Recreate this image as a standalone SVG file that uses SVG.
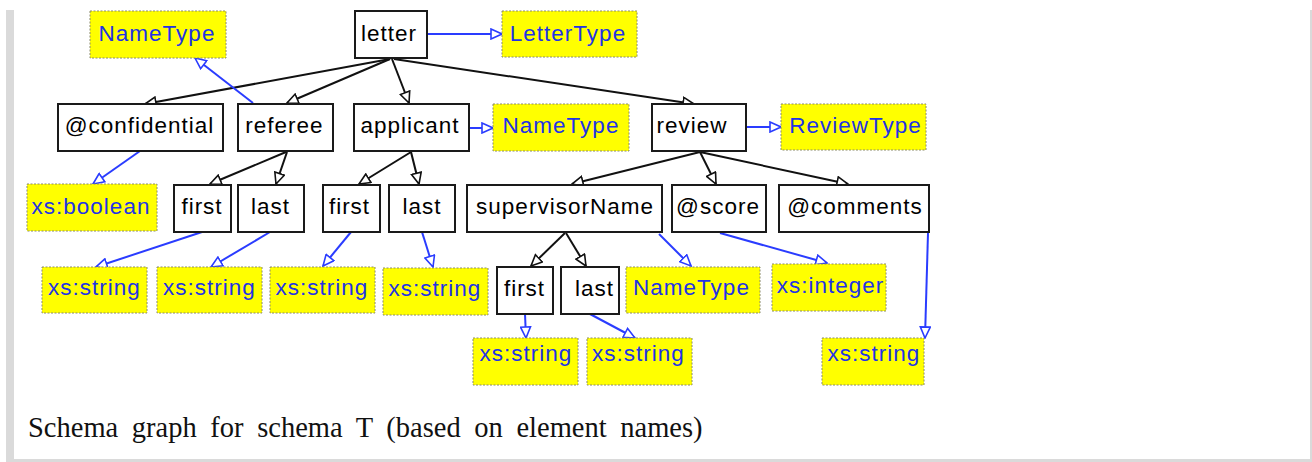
<svg xmlns="http://www.w3.org/2000/svg" width="1312" height="462" viewBox="0 0 1312 462">
<style>
.n rect{fill:#fff;stroke:#1a1a1a;stroke-width:2}
.t rect{fill:#ffff00;stroke:#8a8a6a;stroke-width:1;stroke-dasharray:2,1.5}
text{font-family:"Liberation Sans",Arial,sans-serif;font-size:22.5px;letter-spacing:1px;text-anchor:middle}
.n text{fill:#000}
.t text{fill:#2233e6}
.k{stroke:#111;stroke-width:2;fill:none;marker-end:url(#ak)}
.b{stroke:#2a3cff;stroke-width:2;fill:none;marker-end:url(#ab)}
.cap{font-family:"Liberation Serif","Times New Roman",serif;font-size:28.5px;letter-spacing:0;word-spacing:6.5px;text-anchor:start;fill:#111}
.fr{fill:#dadada}
</style>
<defs>
<marker id="ak" viewBox="0 0 13 12" refX="12" refY="6" markerWidth="13" markerHeight="12" markerUnits="userSpaceOnUse" orient="auto">
<path d="M1,1 L12,6 L1,11 Z" fill="#fff" stroke="#111" stroke-width="1.6"/>
</marker>
<marker id="ab" viewBox="0 0 13 12" refX="12" refY="6" markerWidth="13" markerHeight="12" markerUnits="userSpaceOnUse" orient="auto">
<path d="M1,1 L12,6 L1,11 Z" fill="#fff" stroke="#2a3cff" stroke-width="1.6"/>
</marker>
</defs>
<g id="frame">
<rect class="fr" x="6" y="10" width="8" height="452"/>
<rect class="fr" x="1310" y="10" width="2" height="452"/>
<rect class="fr" x="6" y="459" width="1306" height="3"/>
</g>
<g id="connectors">
<line class="k" x1="390" y1="59" x2="145" y2="104"/>
<line class="k" x1="390" y1="59" x2="287" y2="103"/>
<line class="k" x1="392" y1="59" x2="409" y2="103"/>
<line class="k" x1="394" y1="59" x2="694" y2="104"/>
<line class="k" x1="286" y1="152" x2="210" y2="184"/>
<line class="k" x1="287" y1="152" x2="276" y2="184"/>
<line class="k" x1="411" y1="152" x2="359" y2="184"/>
<line class="k" x1="411" y1="152" x2="419" y2="184"/>
<line class="k" x1="700" y1="152" x2="572" y2="184"/>
<line class="k" x1="700" y1="152" x2="716" y2="184"/>
<line class="k" x1="700" y1="152" x2="848" y2="184"/>
<line class="k" x1="565" y1="233" x2="531" y2="266"/>
<line class="k" x1="566" y1="233" x2="586" y2="266"/>
<line class="b" x1="428" y1="34" x2="502" y2="34"/>
<line class="b" x1="253" y1="103" x2="195" y2="58"/>
<line class="b" x1="469" y1="128" x2="493" y2="128"/>
<line class="b" x1="746" y1="127" x2="781" y2="127"/>
<line class="b" x1="140" y1="151" x2="93" y2="184"/>
<line class="b" x1="202" y1="232" x2="96" y2="267"/>
<line class="b" x1="270" y1="232" x2="211" y2="267"/>
<line class="b" x1="351" y1="232" x2="323" y2="266"/>
<line class="b" x1="422" y1="232" x2="433" y2="267"/>
<line class="b" x1="659" y1="234" x2="691" y2="266"/>
<line class="b" x1="720" y1="233" x2="827" y2="263"/>
<line class="b" x1="928" y1="233" x2="925" y2="338"/>
<line class="b" x1="525" y1="314" x2="526" y2="338"/>
<line class="b" x1="590" y1="314" x2="635" y2="338"/>
</g>
<g id="letter" class="n"><rect x="355" y="11" width="72" height="47"/><text x="389" y="41">letter</text></g>
<g id="confidential" class="n"><rect x="58" y="104" width="165" height="47"/><text x="139.5" y="133">@confidential</text></g>
<g id="referee" class="n"><rect x="238" y="104" width="95" height="47"/><text x="284.5" y="133">referee</text></g>
<g id="applicant" class="n"><rect x="354" y="104" width="115" height="47"/><text x="410" y="133">applicant</text></g>
<g id="review" class="n"><rect x="652" y="104" width="94" height="47"/><text x="692" y="133">review</text></g>
<g id="referee-first" class="n"><rect x="174" y="185" width="57" height="47"/><text x="202" y="213.5">first</text></g>
<g id="referee-last" class="n"><rect x="238" y="185" width="66" height="47"/><text x="270.5" y="213.5">last</text></g>
<g id="applicant-first" class="n"><rect x="323" y="185" width="57" height="47"/><text x="349.5" y="213.5">first</text></g>
<g id="applicant-last" class="n"><rect x="389" y="185" width="66" height="47"/><text x="422" y="213.5">last</text></g>
<g id="supervisorName" class="n"><rect x="467" y="185" width="195" height="47"/><text x="565" y="213.5">supervisorName</text></g>
<g id="score" class="n"><rect x="672" y="185" width="94" height="47"/><text x="718" y="213.5">@score</text></g>
<g id="comments" class="n"><rect x="779" y="185" width="150" height="47"/><text x="855" y="213.5">@comments</text></g>
<g id="sup-first" class="n"><rect x="497" y="267" width="56" height="47"/><text x="524.5" y="296">first</text></g>
<g id="sup-last" class="n"><rect x="561" y="267" width="58" height="47"/><text x="594.5" y="296">last</text></g>
<g id="t-nametype1" class="t"><rect x="90" y="11" width="136" height="47"/><text x="157" y="41">NameType</text></g>
<g id="t-lettertype" class="t"><rect x="502" y="11" width="135" height="46"/><text x="568" y="41">LetterType</text></g>
<g id="t-nametype2" class="t"><rect x="493" y="104" width="136" height="47"/><text x="561" y="133">NameType</text></g>
<g id="t-reviewtype" class="t"><rect x="781" y="104" width="145" height="46"/><text x="855.5" y="133">ReviewType</text></g>
<g id="t-boolean" class="t"><rect x="27" y="184" width="130" height="47"/><text x="91" y="213.5">xs:boolean</text></g>
<g id="t-string1" class="t"><rect x="42" y="267" width="105" height="46"/><text x="94.5" y="295">xs:string</text></g>
<g id="t-string2" class="t"><rect x="157" y="267" width="105" height="46"/><text x="209.5" y="295">xs:string</text></g>
<g id="t-string3" class="t"><rect x="270" y="267" width="105" height="46"/><text x="322" y="295">xs:string</text></g>
<g id="t-string4" class="t"><rect x="383" y="268" width="105" height="47"/><text x="435" y="296">xs:string</text></g>
<g id="t-nametype3" class="t"><rect x="626" y="267" width="134" height="46"/><text x="691.5" y="295">NameType</text></g>
<g id="t-integer" class="t"><rect x="772" y="264" width="114" height="47"/><text x="830.5" y="293">xs:integer</text></g>
<g id="t-string5" class="t"><rect x="473" y="338" width="105" height="47"/><text x="526" y="361">xs:string</text></g>
<g id="t-string6" class="t"><rect x="587" y="338" width="105" height="47"/><text x="638.5" y="361">xs:string</text></g>
<g id="t-string7" class="t"><rect x="822" y="338" width="102" height="47"/><text x="874" y="361">xs:string</text></g>
<text class="cap" x="28" y="437">Schema graph for schema T (based on element names)</text>
</svg>
